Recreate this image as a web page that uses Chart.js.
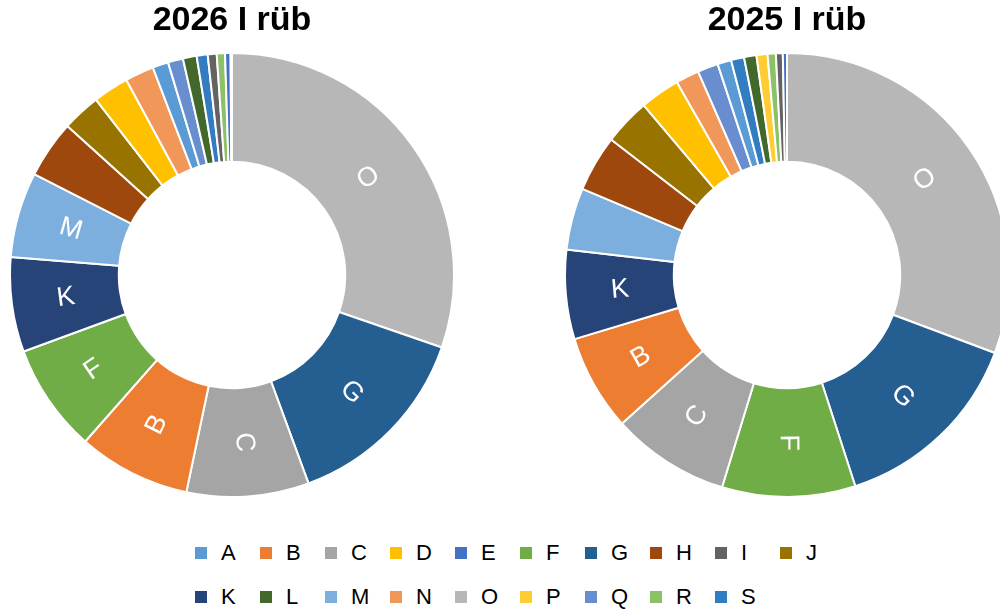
<!DOCTYPE html>
<html>
<head>
<meta charset="utf-8">
<script src="https://cdn.jsdelivr.net/npm/chart.js@4"></script>
<style>
    html, body { margin: 0; padding: 0; width: 1000px; height: 614px; overflow: hidden; background: #fff; }
    .chart-box { position: absolute; top: 0; }
    #legend { position: absolute; left: 195px; top: 541px; width: 660px; font-family: "Liberation Sans", Arial, sans-serif; font-size: 22px; color: #000; }
    .lg-row { height: 44px; display: flex; }
    .lg-item { width: 65px; display: flex; align-items: center; height: 24px; }
    .lg-box { width: 12px; height: 12px; margin-right: 14px; }
</style>
</head>
<body>
<div class="chart-box" style="left:9px"><canvas id="chart2026" width="446" height="498"></canvas></div>
<div class="chart-box" style="left:564px"><canvas id="chart2025" width="446" height="498"></canvas></div>
<div id="legend"></div>

<script>
// categories (legend order)
const categories = ['A', 'B', 'C', 'D', 'E', 'F', 'G', 'H', 'I', 'J', 'K', 'L', 'M', 'N', 'O', 'P', 'Q', 'R', 'S'];

const sliceColors = [
    '#5B9BD5', '#ED7D31', '#A5A5A5', '#FFC000', '#4472C4', '#70AD47', '#255E91', '#9E480E', '#636363', '#997300',
    '#264478', '#43682B', '#7CAFDD', '#F1975A', '#B7B7B7', '#FFCD33', '#698ED0', '#8CC168', '#327DC2'
];

// share in % (A..S)
const values2026 = [1.15, 8.2, 8.9, 2.6, 0.4, 7.9, 14.1, 4.2, 0.65, 2.8, 6.9, 1.0, 6.2, 2.1, 30.3, 0.1, 1.1, 0.6, 0.8];
const values2025 = [1.0, 7.0, 8.6, 2.9, 0.3, 9.7, 14.3, 4.1, 0.5, 3.4, 6.5, 0.9, 4.5, 1.7, 30.7, 0.8, 1.5, 0.6, 0.95];

const titles = ['2026 I rüb', '2025 I rüb'];

const FONT = '"Liberation Sans", Arial, sans-serif';

// white letters inside the bigger slices, turned along the ring
const sliceLabels = {
    id: 'sliceLabels',
    afterDatasetsDraw(chart) {
        const ctx = chart.ctx;
        const meta = chart.getDatasetMeta(0);
        const data = chart.data.datasets[0].data;
        const total = data.reduce((a, b) => a + b, 0);
        meta.data.forEach((arc, i) => {
            if (data[i] / total < 0.05) return;
            const p = arc.getProps(['x', 'y', 'startAngle', 'endAngle', 'innerRadius', 'outerRadius'], true);
            const mid = (p.startAngle + p.endAngle) / 2;
            const r = (p.innerRadius + p.outerRadius) / 2;
            let rot = mid * 180 / Math.PI;
            if (rot > 90) rot -= 180;   // keep text readable
            ctx.save();
            ctx.translate(p.x + r * Math.cos(mid), p.y + r * Math.sin(mid));
            ctx.rotate(rot * Math.PI / 180);
            ctx.fillStyle = '#fff';
            ctx.font = '27px ' + FONT;
            ctx.textAlign = 'center';
            ctx.textBaseline = 'middle';
            ctx.fillText(chart.data.labels[i], 0, 0);
            ctx.restore();
        });
    }
};

function createDoughnut(canvasId, values, title) {
    // biggest slice first, clockwise from the top
    const idx = categories.map((c, i) => i).sort((a, b) => values[b] - values[a]);

    new Chart(document.getElementById(canvasId), {
        type: 'doughnut',
        data: {
            labels: idx.map(i => categories[i]),
            datasets: [{
                data: idx.map(i => values[i]),
                backgroundColor: idx.map(i => sliceColors[i]),
                borderColor: '#fff',
                borderWidth: 2
            }]
        },
        options: {
            responsive: false,
            animation: false,
            cutout: '51%',
            layout: { padding: 0 },
            plugins: {
                title: {
                    display: true,
                    text: title,
                    color: '#000',
                    font: { family: FONT, size: 34, weight: 'bold' },
                    padding: { top: 0, bottom: 11.2 }
                },
                legend: { display: false },
                tooltip: { enabled: false }
            }
        },
        plugins: [sliceLabels]
    });
}

function buildLegend() {
    const box = document.getElementById('legend');
    for (let row = 0; row < 2; row++) {
        const r = document.createElement('div');
        r.className = 'lg-row';
        categories.slice(row * 10, row * 10 + 10).forEach((c, k) => {
            const i = row * 10 + k;
            const item = document.createElement('div');
            item.className = 'lg-item';
            item.innerHTML = '<span class="lg-box" style="background:' + sliceColors[i] + '"></span><span>' + c + '</span>';
            r.appendChild(item);
        });
        box.appendChild(r);
    }
}

createDoughnut('chart2026', values2026, titles[0]);
createDoughnut('chart2025', values2025, titles[1]);
buildLegend();
</script>
</body>
</html>
